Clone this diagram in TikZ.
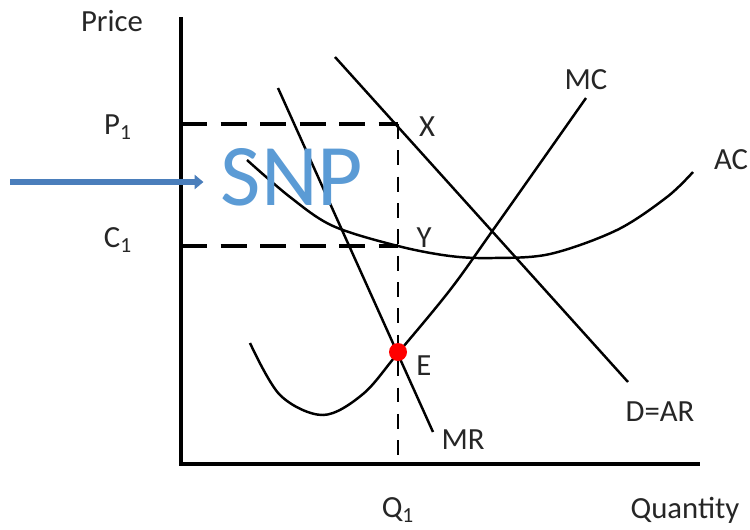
\documentclass[tikz,border=0pt]{standalone}
\usepackage{fontspec}
\setmainfont{Carlito}
\usetikzlibrary{arrows.meta, positioning}
\definecolor{SNPBlue}{HTML}{5B9BD5}
\definecolor{ArrowBlue}{HTML}{4A7EBB}

\begin{document}
\begin{tikzpicture}[>=Stealth, x=0.02cm, y=-0.02cm,
    lbl/.style={font=\fontsize{17.5}{20}\selectfont, text=black!85},
    curve/.style={line width=1.4pt},
    guide/.style={line width=2.4pt, dash pattern=on 15pt off 7.5pt},
    drop/.style={line width=1.4pt, dash pattern=on 8.5pt off 6.5pt}]
  \useasboundingbox (0,0) rectangle (750,529);
  % axes
  \coordinate (origin) at (181,464);
  \coordinate (ytop) at (181,17);
  \coordinate (xend) at (700,464);
  \draw[line width=2.3pt] (ytop) -- (origin) -- (xend);
  \node[lbl] (price) at (112,21) {Price};
  \node[lbl] (qty) at (685,510) {Quantity};
  % key points
  \coordinate (p1) at (181,124);
  \coordinate (c1) at (181,246);
  \coordinate (X) at (398,124);
  \coordinate (Y) at (398,246);
  \coordinate (E) at (398,352);
  \coordinate (q1) at (398,464);
  \draw[guide] (p1) -- (X);
  \draw[guide] (c1) -- (Y);
  \draw[drop] (X) -- (q1);
  \node[lbl] (p1lbl) at (118,127) {P\textsubscript{1}};
  \node[lbl] (c1lbl) at (118,240) {C\textsubscript{1}};
  \node[lbl] (q1lbl) at (398,510) {Q\textsubscript{1}};
  % demand and marginal revenue
  \coordinate (dtop) at (335,57);
  \coordinate (dbot) at (628,382);
  \draw[curve] (dtop) -- (dbot);
  \coordinate (mrtop) at (278,88);
  \coordinate (mrbot) at (433,432);
  \draw[curve] (mrtop) -- (mrbot);
  % cost curves
  \draw[curve] plot[smooth, tension=0.55] coordinates {(247,160) (290,197) (333,226)
    (398,246) (450,256) (493,258) (550,254) (617,230) (667,197) (693,172)};
  \draw[curve] plot[smooth, tension=0.55] coordinates {(250,343) (280,395) (323,415)
    (363,394) (398,353) (450,290) (493,230) (586,98)};
  \fill[red] (E) circle[radius=0.18cm];
  % curve labels
  \node[lbl] (mc) at (586,80) {MC};
  \node[lbl] (ac) at (731,160) {AC};
  \node[lbl] (dar) at (660,412) {D=AR};
  \node[lbl] (mr) at (463,440) {MR};
  \node[lbl] (elbl) at (424,366) {E};
  \node[lbl] (xlbl) at (427,127) {X};
  \node[lbl] (ylbl) at (424,238) {Y};
  % supernormal profit
  \node[font=\fontsize{50}{55}\selectfont, text=SNPBlue, inner sep=0pt]
    (snp) at (292,177) {SNP};
  \coordinate (tail) at (10,182);
  \draw[-{Triangle[length=5pt, width=8pt]}, ArrowBlue, line width=3.3pt,
        shorten >=0.34cm] (tail) -- (snp.west |- tail);
\end{tikzpicture}
\end{document}
